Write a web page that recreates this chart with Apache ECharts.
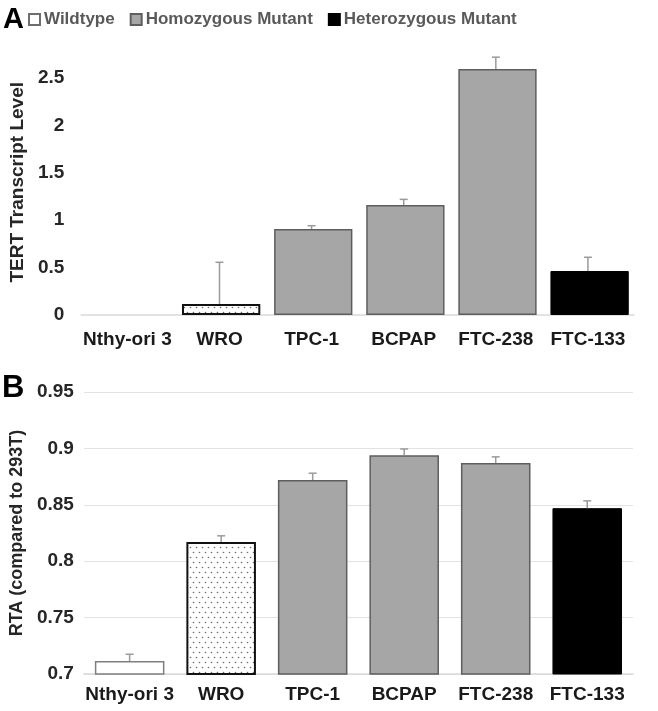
<!DOCTYPE html>
<html>
<head>
<meta charset="utf-8">
<script src="https://cdn.jsdelivr.net/npm/echarts@6/dist/echarts.min.js"></script>
<style>
html,body{margin:0;padding:0;background:#fff;}
#chart{width:658px;height:711px;}
</style>
</head>
<body>
<div id="chart"></div>
<script>
// ---- Data ----
const categories = ['Nthy-ori 3', 'WRO', 'TPC-1', 'BCPAP', 'FTC-238', 'FTC-133'];
const genotype = ['Wildtype', 'Wildtype', 'Homozygous Mutant', 'Homozygous Mutant', 'Homozygous Mutant', 'Heterozygous Mutant'];
const legendNames = ['Wildtype', 'Homozygous Mutant', 'Heterozygous Mutant'];
const tertLevel = [0, 0.116, 0.907, 1.16, 2.595, 0.464];
const tertErr = [0, 0.44, 0.035, 0.06, 0.125, 0.145];
const rtaLevel = [0.7115, 0.817, 0.872, 0.894, 0.887, 0.847];
const rtaErr = [0.006, 0.0055, 0.006, 0.0055, 0.0055, 0.0065];
const tertTicks = [0, 0.5, 1, 1.5, 2, 2.5];
const rtaTicks = [0.7, 0.75, 0.8, 0.85, 0.9, 0.95];

// ---- Styles ----
const FONT = '"Liberation Sans", Arial, sans-serif';
function dotPattern() {
  const c = document.createElement('canvas');
  c.width = 6; c.height = 10;
  const g = c.getContext('2d');
  g.fillStyle = '#fff'; g.fillRect(0, 0, 6, 10);
  g.fillStyle = '#6a6a6a';
  g.beginPath(); g.arc(1.5, 2.5, 0.8, 0, Math.PI * 2); g.fill();
  g.beginPath(); g.arc(4.5, 7.5, 0.8, 0, Math.PI * 2); g.fill();
  return { image: c, repeat: 'repeat' };
}
const pattern = dotPattern();
function styleFor(i) {
  const gt = genotype[i];
  if (gt === 'Wildtype') {
    if (categories[i] === 'WRO') return { color: pattern, borderColor: '#111', borderWidth: 2 };
    return { color: '#fff', borderColor: '#7f7f7f', borderWidth: 1.5 };
  }
  if (gt === 'Homozygous Mutant') return { color: '#a6a6a6', borderColor: '#5e5e5e', borderWidth: 1.5 };
  return { color: '#000', borderColor: '#000', borderWidth: 1 };
}
const legendStyles = {
  'Wildtype': { color: '#fff', borderColor: '#6e6e6e', borderWidth: 1 },
  'Homozygous Mutant': { color: '#a6a6a6', borderColor: '#5e5e5e', borderWidth: 1 },
  'Heterozygous Mutant': { color: '#000', borderColor: '#000', borderWidth: 1 }
};

function errRender(params, api) {
  const x = api.value(0), v = api.value(1), e = api.value(2);
  if (!e) return null;
  const p0 = api.coord([x, v]);
  const p1 = api.coord([x, v + e]);
  const st = { stroke: '#9a9a9a', lineWidth: 1.5 };
  return {
    type: 'group',
    children: [
      { type: 'line', shape: { x1: p0[0], y1: p0[1], x2: p1[0], y2: p1[1] }, style: st },
      { type: 'line', shape: { x1: p1[0] - 4, y1: p1[1], x2: p1[0] + 4, y2: p1[1] }, style: st }
    ]
  };
}

const chart = echarts.init(document.getElementById('chart'), null, { renderer: 'canvas' });

const catLabel = { color: '#1a1a1a', fontSize: 19, fontWeight: 'bold', fontFamily: FONT };
const tickLabel = { color: '#262626', fontSize: 19, fontWeight: 'bold', fontFamily: FONT };

const option = {
  backgroundColor: '#fff',
  animation: false,
  legend: {
    data: legendNames,
    left: 28,
    top: 11,
    padding: 0,
    itemWidth: 11,
    itemHeight: 11,
    itemGap: 15,
    icon: 'rect',
    selectedMode: false,
    textStyle: { color: '#595959', fontSize: 17, fontWeight: 'bold', fontFamily: FONT, padding: [0, 0, 0, -1] }
  },
  graphic: [
    { type: 'text', left: 3, top: 5, style: { text: 'A', fontSize: 29, fontWeight: 'bold', fontFamily: FONT, fill: '#000' } },
    { type: 'text', left: 2, top: 373, style: { text: 'B', fontSize: 31, fontWeight: 'bold', fontFamily: FONT, fill: '#000' } }
  ],
  grid: [
    { left: 74, right: 24, top: 49.6, height: 265.4 },
    { left: 76, right: 25, top: 392, height: 282 }
  ],
  xAxis: [
    {
      type: 'category', gridIndex: 0, data: categories,
      axisLine: { lineStyle: { color: '#d9d9d9', width: 1.5 } },
      axisTick: { show: false },
      axisLabel: Object.assign({ margin: 15, interval: 0 }, catLabel)
    },
    {
      type: 'category', gridIndex: 1, data: categories,
      axisLine: { lineStyle: { color: '#d9d9d9', width: 1.5 } },
      axisTick: { show: false },
      axisLabel: Object.assign({ margin: 11, interval: 0 }, catLabel)
    }
  ],
  yAxis: [
    {
      type: 'value', gridIndex: 0, min: 0, max: 2.8, interval: 0.5,
      name: 'TERT Transcript Level', nameLocation: 'middle', nameGap: 51,
      nameTextStyle: { color: '#262626', fontSize: 19, fontWeight: 'bold', fontFamily: FONT },
      splitLine: { show: false },
      axisLine: { show: false }, axisTick: { show: false },
      axisLabel: Object.assign({ margin: 17, showMaxLabel: false,
        formatter: v => tertTicks.indexOf(+v.toFixed(2)) >= 0 ? String(+v.toFixed(2)) : '' }, tickLabel)
    },
    {
      type: 'value', gridIndex: 1, min: 0.7, max: 0.95, interval: 0.05,
      name: 'RTA (compared to 293T)', nameLocation: 'middle', nameGap: 53,
      nameTextStyle: { color: '#262626', fontSize: 18, fontWeight: 'bold', fontFamily: FONT },
      splitLine: { show: true, lineStyle: { color: '#e3e3e3', width: 1.2 } },
      axisLine: { show: false }, axisTick: { show: false },
      axisLabel: Object.assign({ margin: 10,
        formatter: v => rtaTicks.indexOf(+v.toFixed(2)) >= 0 ? String(+v.toFixed(2)) : '' }, tickLabel)
    }
  ],
  series: [
    // legend-only entries
    ...legendNames.map(n => ({ name: n, type: 'bar', xAxisIndex: 0, yAxisIndex: 0, data: [], itemStyle: legendStyles[n] })),
    {
      type: 'bar', xAxisIndex: 0, yAxisIndex: 0, barWidth: '85%',
      data: tertLevel.map((v, i) => ({ value: v, itemStyle: v > 0 ? styleFor(i) : { color: 'rgba(0,0,0,0)', borderWidth: 0 } }))
    },
    {
      type: 'custom', xAxisIndex: 0, yAxisIndex: 0, renderItem: errRender, z: 5,
      data: tertLevel.map((v, i) => [i, v, tertErr[i]])
    },
    {
      type: 'bar', xAxisIndex: 1, yAxisIndex: 1, barWidth: '76%',
      data: rtaLevel.map((v, i) => ({ value: v, itemStyle: styleFor(i) }))
    },
    {
      type: 'custom', xAxisIndex: 1, yAxisIndex: 1, renderItem: errRender, z: 5,
      data: rtaLevel.map((v, i) => [i, v, rtaErr[i]])
    }
  ]
};
chart.setOption(option);
</script>
</body>
</html>
